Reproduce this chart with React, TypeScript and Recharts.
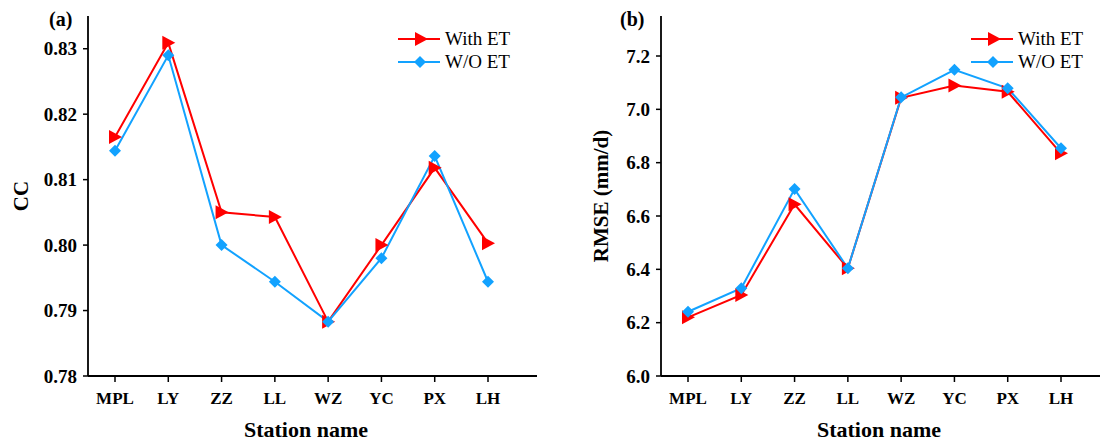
import { Label, Legend, Line, LineChart, XAxis, YAxis } from 'recharts'

const stations = ['MPL', 'LY', 'ZZ', 'LL', 'WZ', 'YC', 'PX', 'LH']

const ccWithEt = [0.8165, 0.8309, 0.805, 0.8043, 0.7883, 0.8, 0.8118, 0.8003]
const ccWithoutEt = [0.8144, 0.829, 0.8, 0.7944, 0.7883, 0.798, 0.8136, 0.7944]
const ccTicks = [0.78, 0.79, 0.8, 0.81, 0.82, 0.83]

const rmseWithEt = [6.22, 6.304, 6.644, 6.404, 7.043, 7.089, 7.066, 6.835]
const rmseWithoutEt = [6.241, 6.329, 6.701, 6.404, 7.045, 7.148, 7.079, 6.854]
const rmseTicks = [6.0, 6.2, 6.4, 6.6, 6.8, 7.0, 7.2]

const RED = '#ff0000'
const BLUE = '#12a2ff'
const FONT = "'Liberation Serif', 'Times New Roman', serif"

const Triangle = (props: any) => {
  const { cx, cy, index } = props
  if (cx == null || cy == null) return <g key={`t-${index}`} />
  return (
    <polygon
      key={`t-${index}`}
      points={`${cx - 6},${cy - 7} ${cx + 7},${cy} ${cx - 6},${cy + 7}`}
      fill={RED}
    />
  )
}

const Diamond = (props: any) => {
  const { cx, cy, index } = props
  if (cx == null || cy == null) return <g key={`d-${index}`} />
  return (
    <polygon
      key={`d-${index}`}
      points={`${cx},${cy - 6} ${cx + 6},${cy} ${cx},${cy + 6} ${cx - 6},${cy}`}
      fill={BLUE}
    />
  )
}

const LegendBox = () => (
  <div style={{ fontFamily: FONT, fontSize: 19, color: '#000' }}>
    {[
      { name: 'With ET', color: RED, shape: 'tri' },
      { name: 'W/O ET', color: BLUE, shape: 'dia' },
    ].map((item) => (
      <div key={item.name} style={{ display: 'flex', alignItems: 'center', height: 23 }}>
        <svg width={44} height={16} style={{ display: 'block' }}>
          <line x1={1} y1={8} x2={43} y2={8} stroke={item.color} strokeWidth={2} />
          {item.shape === 'tri' ? (
            <polygon points="18,1 31,8 18,15" fill={item.color} />
          ) : (
            <polygon points="23,2 29,8 23,14 17,8" fill={item.color} />
          )}
        </svg>
        <span style={{ marginLeft: 4, lineHeight: '23px', fontFamily: FONT }}>{item.name}</span>
      </div>
    ))}
  </div>
)

type PanelProps = {
  left: number
  tag: string
  tagX: number
  yLabel: string
  yLabelX: number
  withEt: number[]
  withoutEt: number[]
  domain: [number, number]
  ticks: number[]
  digits: number
}

function Panel({ left, tag, tagX, yLabel, yLabelX, withEt, withoutEt, domain, ticks, digits }: PanelProps) {
  const data = stations.map((name, i) => ({ name, withEt: withEt[i], withoutEt: withoutEt[i] }))
  const tickStyle = { fontFamily: FONT, fontSize: 19, fontWeight: 700, fill: '#000' }

  return (
    <div style={{ position: 'absolute', left, top: 0 }}>
      <LineChart width={560} height={442} data={data} margin={{ top: 16, right: 23, bottom: 26, left: 28 }}>
        <XAxis
          dataKey="name"
          type="category"
          padding={{ left: 27, right: 49 }}
          height={40}
          axisLine={{ stroke: '#000', strokeWidth: 1.8 }}
          tickLine={{ stroke: '#000', strokeWidth: 1.5 }}
          tickSize={6}
          tickMargin={10}
          interval={0}
          tick={{ ...tickStyle, fontSize: 17 }}
        >
          <Label
            content={({ viewBox }: any) => (
              <text
                x={viewBox.x + 218}
                y={437}
                textAnchor="middle"
                fontFamily={FONT}
                fontSize={22}
                fontWeight={700}
                fill="#000"
              >
                Station name
              </text>
            )}
          />
        </XAxis>
        <XAxis
          xAxisId="top"
          dataKey="name"
          orientation="top"
          height={0}
          tick={false}
          tickLine={false}
          axisLine={{ stroke: '#000', strokeWidth: 1.8 }}
        />
        <YAxis
          domain={domain}
          ticks={ticks}
          type="number"
          allowDataOverflow
          width={60}
          axisLine={{ stroke: '#000', strokeWidth: 1.8 }}
          tickLine={{ stroke: '#000', strokeWidth: 1.5 }}
          tickSize={5}
          tickMargin={6}
          tick={tickStyle}
          tickFormatter={(v: number) => v.toFixed(digits)}
        >
          <Label
            content={({ viewBox }: any) => (
              <g>
                <text
                  x={yLabelX}
                  y={viewBox.y + viewBox.height / 2}
                  transform={`rotate(-90, ${yLabelX}, ${viewBox.y + viewBox.height / 2})`}
                  textAnchor="middle"
                  fontFamily={FONT}
                  fontSize={21}
                  fontWeight={700}
                  fill="#000"
                >
                  {yLabel}
                </text>
                <text x={tagX} y={26} fontFamily={FONT} fontSize={20} fontWeight={700} fill="#000">
                  {tag}
                </text>
              </g>
            )}
          />
        </YAxis>
        <YAxis
          yAxisId="right"
          orientation="right"
          domain={domain}
          type="number"
          width={0}
          tick={false}
          tickLine={false}
          axisLine={{ stroke: '#000', strokeWidth: 1.8 }}
        />
        <Legend
          layout="vertical"
          align="center"
          verticalAlign="middle"
          wrapperStyle={{ top: 27, left: 397, width: 160 }}
          content={() => <LegendBox />}
        />
        <Line
          dataKey="withEt"
          name="With ET"
          stroke={RED}
          strokeWidth={2}
          dot={(p: any) => <Triangle {...p} />}
          activeDot={false}
          isAnimationActive={false}
        />
        <Line
          dataKey="withoutEt"
          name="W/O ET"
          stroke={BLUE}
          strokeWidth={2}
          dot={(p: any) => <Diamond {...p} />}
          activeDot={false}
          isAnimationActive={false}
        />
      </LineChart>
    </div>
  )
}

export default function App() {
  return (
    <div
      style={{
        position: 'absolute',
        left: 0,
        top: 0,
        width: 1100,
        height: 442,
        overflow: 'hidden',
        background: '#fff',
        fontFamily: FONT,
      }}
    >
      <style>{`.recharts-text, .recharts-cartesian-axis-tick-value, .recharts-legend-wrapper { font-family: 'Liberation Serif', 'Times New Roman', serif !important; }`}</style>
      <Panel
        left={0}
        tag="(a)"
        tagX={49}
        yLabel="CC"
        yLabelX={28}
        withEt={ccWithEt}
        withoutEt={ccWithoutEt}
        domain={[0.78, 0.835]}
        ticks={ccTicks}
        digits={2}
      />
      <Panel
        left={573}
        tag="(b)"
        tagX={47}
        yLabel="RMSE (mm/d)"
        yLabelX={35}
        withEt={rmseWithEt}
        withoutEt={rmseWithoutEt}
        domain={[6.0, 7.35]}
        ticks={rmseTicks}
        digits={1}
      />
    </div>
  )
}
